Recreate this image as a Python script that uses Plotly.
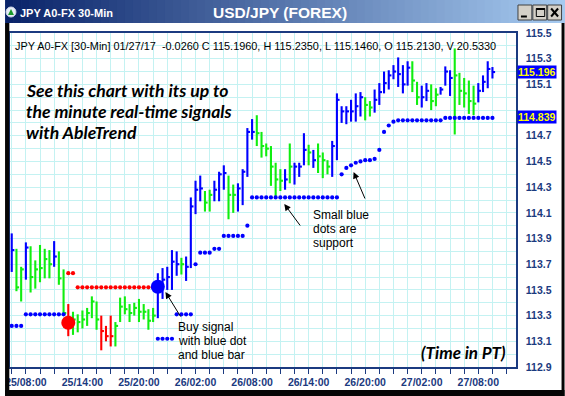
import plotly.graph_objects as go
import pandas as pd

# ---------------- data ----------------
bar_start = "2017-01-25 06:30"   # first 30-min bar
n_bars = 103

high = [113.94, 113.82, 113.68, 113.87, 113.84, 113.73, 113.85, 113.82, 113.81, 113.88,
        113.80, 113.66, 113.39, 113.33, 113.31, 113.34, 113.36, 113.45, 113.41, 113.30,
        113.22, 113.30, 113.25, 113.44, 113.45, 113.39, 113.40, 113.43, 113.39, 113.35,
        113.36, 113.63, 113.67, 113.68, 113.81, 113.80, 113.75, 113.76, 114.22, 114.35,
        114.39, 114.27, 114.28, 114.35, 114.42, 114.47, 114.39, 114.32, 114.33, 114.44,
        114.76, 114.83, 114.86, 114.73, 114.64, 114.62, 114.49, 114.44, 114.44, 114.64,
        114.49, 114.49, 114.72, 114.63, 114.59, 114.64, 114.57, 114.51, 114.66, 115.03,
        114.93, 114.93, 114.98, 115.03, 115.04, 115.00, 114.97, 115.06, 115.11, 115.20,
        115.21, 115.25, 115.31, 115.25, 115.28, 115.28, 115.12, 115.09, 115.11, 115.10,
        115.07, 115.08, 115.24, 115.21, 115.38, 115.19, 115.15, 115.13, 115.09, 115.11,
        115.17, 115.28, 115.235]
low = [113.64, 113.49, 113.41, 113.58, 113.48, 113.51, 113.56, 113.59, 113.59, 113.68,
       113.54, 113.31, 113.14, 113.15, 113.17, 113.20, 113.22, 113.28, 113.19, 113.03,
       113.10, 113.06, 113.06, 113.25, 113.31, 113.25, 113.30, 113.25, 113.27, 113.19,
       113.25, 113.28, 113.43, 113.50, 113.50, 113.61, 113.62, 113.57, 113.67, 114.09,
       114.19, 114.11, 114.11, 114.19, 114.19, 114.28, 114.05, 114.10, 114.11, 114.16,
       114.38, 114.67, 114.62, 114.53, 114.54, 114.31, 114.23, 114.27, 114.28, 114.33,
       114.32, 114.38, 114.47, 114.47, 114.45, 114.41, 114.37, 114.40, 114.38, 114.51,
       114.80, 114.79, 114.81, 114.81, 114.85, 114.82, 114.85, 114.88, 114.94, 115.03,
       115.06, 115.14, 115.08, 115.03, 115.09, 115.04, 114.94, 114.92, 114.97, 114.90,
       114.93, 115.02, 115.09, 115.01, 114.71, 114.94, 114.92, 114.87, 114.86, 114.96,
       115.04, 115.07, 115.146]
close = [113.81, 113.52, 113.66, 113.83, 113.60, 113.66, 113.67, 113.74, 113.70, 113.76,
         113.59, 113.32, 113.25, 113.27, 113.25, 113.27, 113.32, 113.41, 113.27, 113.18,
         113.14, 113.14, 113.22, 113.37, 113.35, 113.32, 113.36, 113.33, 113.33, 113.26,
         113.30, 113.52, 113.58, 113.60, 113.72, 113.70, 113.70, 113.68, 114.15, 114.28,
         114.29, 114.18, 114.24, 114.28, 114.40, 114.41, 114.24, 114.24, 114.29, 114.42,
         114.73, 114.73, 114.72, 114.62, 114.60, 114.46, 114.36, 114.35, 114.36, 114.46,
         114.46, 114.46, 114.59, 114.57, 114.51, 114.54, 114.51, 114.46, 114.62, 114.98,
         114.89, 114.89, 114.89, 114.93, 115.00, 114.94, 114.92, 114.98, 115.04, 115.11,
         115.17, 115.20, 115.18, 115.10, 115.23, 115.13, 115.00, 115.00, 115.05, 114.97,
         115.02, 115.06, 115.20, 115.15, 115.17, 115.05, 115.03, 114.97, 114.95, 115.05,
         115.12, 115.22, 115.196]
# b = blue (up trend), g = green (neutral), r = red (down trend)
bar_colors = list("bggbgggggb" "ggrggggggr" "rrgggggggg" "gbbbbbgbbb" "bggbbbggbb"
                  "bbggggggbg" "bbbgbgggbb" "bbbbbggbbb" "bbbbbggbbg" "gbbbgggggb" "bbb")

support_dots = [113.22, 113.22, 113.22,
                113.31, 113.31, 113.31, 113.31, 113.31, 113.31, 113.31, 113.31, 113.31,
                None, None, None, None, None, None, None, None, None, None,
                None, None, None, None, None, None, None, None, None,
                113.12, 113.12, 113.12, 113.12,
                113.31, 113.31, 113.31, 113.31,
                113.70, 113.79, 113.79, 113.79, 113.82, 113.82,
                113.92, 113.92, 113.92, 113.92, 113.92, 114.00,
                114.22, 114.22, 114.22, 114.22, 114.22, 114.22, 114.22, 114.22, 114.22, 114.22,
                114.22, 114.22, 114.22, 114.22, 114.22, 114.22, 114.22, 114.22, 114.22,
                114.40, 114.45, 114.47, 114.49, 114.50, 114.51, 114.51, 114.52, 114.59, 114.73,
                114.78, 114.81,
                114.82, 114.82, 114.82, 114.82, 114.82, 114.82, 114.82, 114.82, 114.82, 114.82,
                114.839, 114.839, 114.839, 114.839, 114.839, 114.839, 114.839, 114.839, 114.839,
                114.839, 114.839]
resist_first_bar = 13
resist_dots = [113.63, 113.63,
               113.52, 113.52, 113.52, 113.52, 113.52, 113.52, 113.52, 113.52, 113.52,
               113.52, 113.52, 113.52, 113.52, 113.52, 113.52, 113.52, 113.52]
buy_signal_bar, buy_signal_price = 32, 113.525
sell_signal_bar, sell_signal_price = 13, 113.245

y_tick_vals = [112.9, 113.1, 113.3, 113.5, 113.7, 113.9, 114.1, 114.3, 114.5, 114.7,
               114.9, 115.1, 115.3, 115.5]
y_tick_text = ["112.9", "113.1", "113.3", "113.5", "113.7", "113.9", "114.1", "114.3",
               "114.5", "114.7", "", "115.1", "115.3", "115.5"]   # 114.9 hidden by price box
last_close_label = "115.196"
support_label = "114.839"
header = ("JPY A0-FX [30-Min] 01/27/17&nbsp;&nbsp;-0.0260 C 115.1960, H 115.2350, "
          "L 115.1460, O 115.2130, V 20.5330")

# ---------------- geometry / style ----------------
W, H = 565, 396
PL, PR, PT, PB = 5, 516, 33, 367


def px(x):
    return (x - PL) / (PR - PL)


def py(y):
    return (PB - y) / (PB - PT)


NAVY = "#1b3a80"
GRID = "#c4f2f2"
COL = {"b": "#0000ff", "g": "#10ee10", "r": "#ff0000"}

times = pd.date_range(bar_start, periods=n_bars, freq="30min")
tick = pd.Timedelta(minutes=17)

fig = go.Figure()

for code in ["g", "r", "b"]:
    xs, ys = [], []
    for t, h, l, c, k in zip(times, high, low, close, bar_colors):
        if k != code:
            continue
        xs += [t, t, None, t, t + tick, None]
        ys += [l, h, None, c, c, None]
    fig.add_trace(go.Scatter(x=xs, y=ys, mode="lines",
                             line=dict(color=COL[code], width=2.1),
                             hoverinfo="skip", showlegend=False))

fig.add_trace(go.Scatter(x=times, y=support_dots, mode="markers",
                         marker=dict(color="#0000ff", size=4.2),
                         hoverinfo="skip", showlegend=False))
rt = times[resist_first_bar - 1: resist_first_bar - 1 + len(resist_dots)]
fig.add_trace(go.Scatter(x=rt, y=resist_dots, mode="markers",
                         marker=dict(color="#ff0000", size=4.2),
                         hoverinfo="skip", showlegend=False))
fig.add_trace(go.Scatter(x=[times[buy_signal_bar - 1]], y=[buy_signal_price], mode="markers",
                         marker=dict(color="#0000ff", size=14),
                         hoverinfo="skip", showlegend=False))
fig.add_trace(go.Scatter(x=[times[sell_signal_bar - 1]], y=[sell_signal_price], mode="markers",
                         marker=dict(color="#ff0000", size=14),
                         hoverinfo="skip", showlegend=False))

shapes = []
TB = 23  # title bar bottom
c0, c1 = (10, 36, 106), (166, 202, 240)
n = 70
for i in range(n):
    f = i / (n - 1)
    col = "rgb(%d,%d,%d)" % tuple(int(a + (b - a) * f) for a, b in zip(c0, c1))
    x0 = W * i / n
    x1 = W * (i + 1) / n + 0.6
    shapes.append(dict(type="rect", xref="paper", yref="paper", x0=px(x0), x1=px(x1),
                       y0=py(TB), y1=py(0), fillcolor=col, line=dict(width=0), layer="above"))
# window buttons
for bx in [518, 533, 548]:
    shapes.append(dict(type="rect", xref="paper", yref="paper", x0=px(bx), x1=px(bx + 14),
                       y0=py(20), y1=py(5), fillcolor="#d4d0c8",
                       line=dict(color="#404040", width=1), layer="above"))
line_k = dict(color="black", width=2)
shapes += [
    dict(type="line", xref="paper", yref="paper", x0=px(521), x1=px(527), y0=py(16.5), y1=py(16.5), line=line_k, layer="above"),
    dict(type="rect", xref="paper", yref="paper", x0=px(536.5), x1=px(545), y0=py(16.5), y1=py(8.5), line=dict(color="black", width=1), layer="above"),
    dict(type="line", xref="paper", yref="paper", x0=px(536.5), x1=px(545), y0=py(9), y1=py(9), line=line_k, layer="above"),
    dict(type="line", xref="paper", yref="paper", x0=px(551.5), x1=px(558.5), y0=py(8.5), y1=py(16.5), line=line_k, layer="above"),
    dict(type="line", xref="paper", yref="paper", x0=px(551.5), x1=px(558.5), y0=py(16.5), y1=py(8.5), line=line_k, layer="above"),
]
# icon
shapes.append(dict(type="circle", xref="paper", yref="paper", x0=px(1), x1=px(11), y0=py(17), y1=py(7),
                   fillcolor="#e8eef8", line=dict(color="#cfd8e8", width=1), layer="above"))
shapes.append(dict(type="path", xref="paper", yref="paper",
                   path="M %f,%f L %f,%f L %f,%f Z" % (px(3), py(15), px(6), py(9), px(9), py(15)),
                   fillcolor="#1a9a2a", line=dict(width=0), layer="above"))
# window borders
shapes += [
    dict(type="rect", xref="paper", yref="paper", x0=px(0), x1=px(4.3), y0=py(396), y1=py(TB),
         fillcolor="#050505", line=dict(width=0), layer="above"),
    dict(type="rect", xref="paper", yref="paper", x0=px(0), x1=px(565), y0=py(396), y1=py(390),
         fillcolor="#050505", line=dict(width=0), layer="above"),
    dict(type="rect", xref="paper", yref="paper", x0=px(562), x1=px(565), y0=py(396), y1=py(TB),
         fillcolor="#050505", line=dict(width=0), layer="above"),
]

ann = []
ann.append(dict(text="<b>JPY A0-FX 30-Min</b>", xref="paper", yref="paper", x=px(13), y=py(13),
                xanchor="left", yanchor="middle", showarrow=False,
                font=dict(family="Liberation Sans, Arial", size=11, color="white")))
ann.append(dict(text="<b>USD/JPY (FOREX)</b>", xref="paper", yref="paper", x=px(278), y=py(13),
                xanchor="center", yanchor="middle", showarrow=False,
                font=dict(family="Liberation Sans, Arial", size=15.5, color="white")))
ann.append(dict(text=header, xref="paper", yref="paper", x=px(8), y=py(45.5),
                xanchor="left", yanchor="middle", showarrow=False,
                font=dict(family="Liberation Sans, Arial", size=10.9, color="black")))
for txt, yy in [("See this chart with its up to", 90.5),
                ("the minute real-time signals", 111.5),
                ("with AbleTrend", 132)]:
    ann.append(dict(text="<b><i>%s</i></b>" % txt, xref="paper", yref="paper", x=px(19), y=py(yy),
                    xanchor="left", yanchor="middle", showarrow=False,
                    font=dict(family="Lato, Open Sans", size=17.6, color="black")))
ann.append(dict(text="<b><i>(Time in PT)</i></b>", xref="paper", yref="paper", x=px(508), y=py(352),
                xanchor="right", yanchor="middle", showarrow=False,
                font=dict(family="Lato, Open Sans", size=17, color="black")))
for txt, yy in [("Buy signal", 327), ("with blue dot", 341), ("and blue bar", 355)]:
    ann.append(dict(text=txt, xref="paper", yref="paper", x=px(173), y=py(yy),
                    xanchor="left", yanchor="middle", showarrow=False,
                    font=dict(family="Liberation Sans, Arial", size=12, color="black")))
for txt, yy in [("Small blue", 215), ("dots are", 229), ("support", 243)]:
    ann.append(dict(text=txt, xref="paper", yref="paper", x=px(309), y=py(yy),
                    xanchor="left", yanchor="middle", showarrow=False,
                    font=dict(family="Liberation Sans, Arial", size=12, color="black")))
for hx, hy, tx, ty in [(162, 292, 178, 318), (282, 204, 299, 227), (352, 172, 364, 200)]:
    ann.append(dict(text="", xref="paper", yref="paper", x=px(hx), y=py(hy),
                    ax=tx - hx, ay=ty - hy, showarrow=True, arrowhead=2, arrowsize=1.3,
                    arrowwidth=1, arrowcolor="black"))
for txt, yy in [(last_close_label, 71.5), (support_label, 116.5)]:
    ann.append(dict(text="<b>%s</b>" % txt, xref="paper", yref="paper", x=px(517), y=py(yy),
                    xanchor="left", yanchor="middle", showarrow=False, bgcolor="#0000ff",
                    borderpad=0,
                    font=dict(family="Liberation Sans, Arial", size=10.5, color="#ffff00")))

fig.update_layout(
    width=W, height=H, autosize=False,
    margin=dict(l=PL, r=W - PR, t=PT, b=H - PB, pad=0),
    paper_bgcolor="white", plot_bgcolor="white",
    showlegend=False,
    shapes=shapes, annotations=ann,
    xaxis=dict(type="date", range=["2017-01-25 06:19", "2017-01-27 12:00"],
               tickmode="linear", tick0="2017-01-25 08:00", dtick=6 * 3600 * 1000,
               tickformat="%d/%H:%M", ticks="outside", ticklen=5, tickcolor=NAVY,
               showgrid=True, gridcolor=GRID, gridwidth=1,
               minor=dict(dtick=5400000, tick0="2017-01-25 08:00", showgrid=True,
                          gridcolor=GRID, ticks="outside", ticklen=5, tickcolor=NAVY),
               showline=True, linecolor=NAVY, linewidth=1.5, mirror=True,
               zeroline=False, ticklabeloverflow="allow",
               tickfont=dict(family="Liberation Sans, Arial", size=10.5, color=NAVY, weight="bold")),
    yaxis=dict(side="right", range=[112.9, 115.5],
               tickmode="array", tickvals=y_tick_vals, ticktext=y_tick_text,
               showgrid=True, gridcolor=GRID, gridwidth=1,
               minor=dict(dtick=0.1, tick0=112.9, showgrid=True, gridcolor=GRID),
               showline=True, linecolor=NAVY, linewidth=1.5, mirror=True,
               zeroline=False, ticks="", ticklabelstandoff=6,
               tickfont=dict(family="Liberation Sans, Arial", size=10.5, color=NAVY, weight="bold")),
)

fig.write_html("out.html", config={"displayModeBar": False},
               post_script="document.body.style.margin='0';document.body.style.padding='0';")
